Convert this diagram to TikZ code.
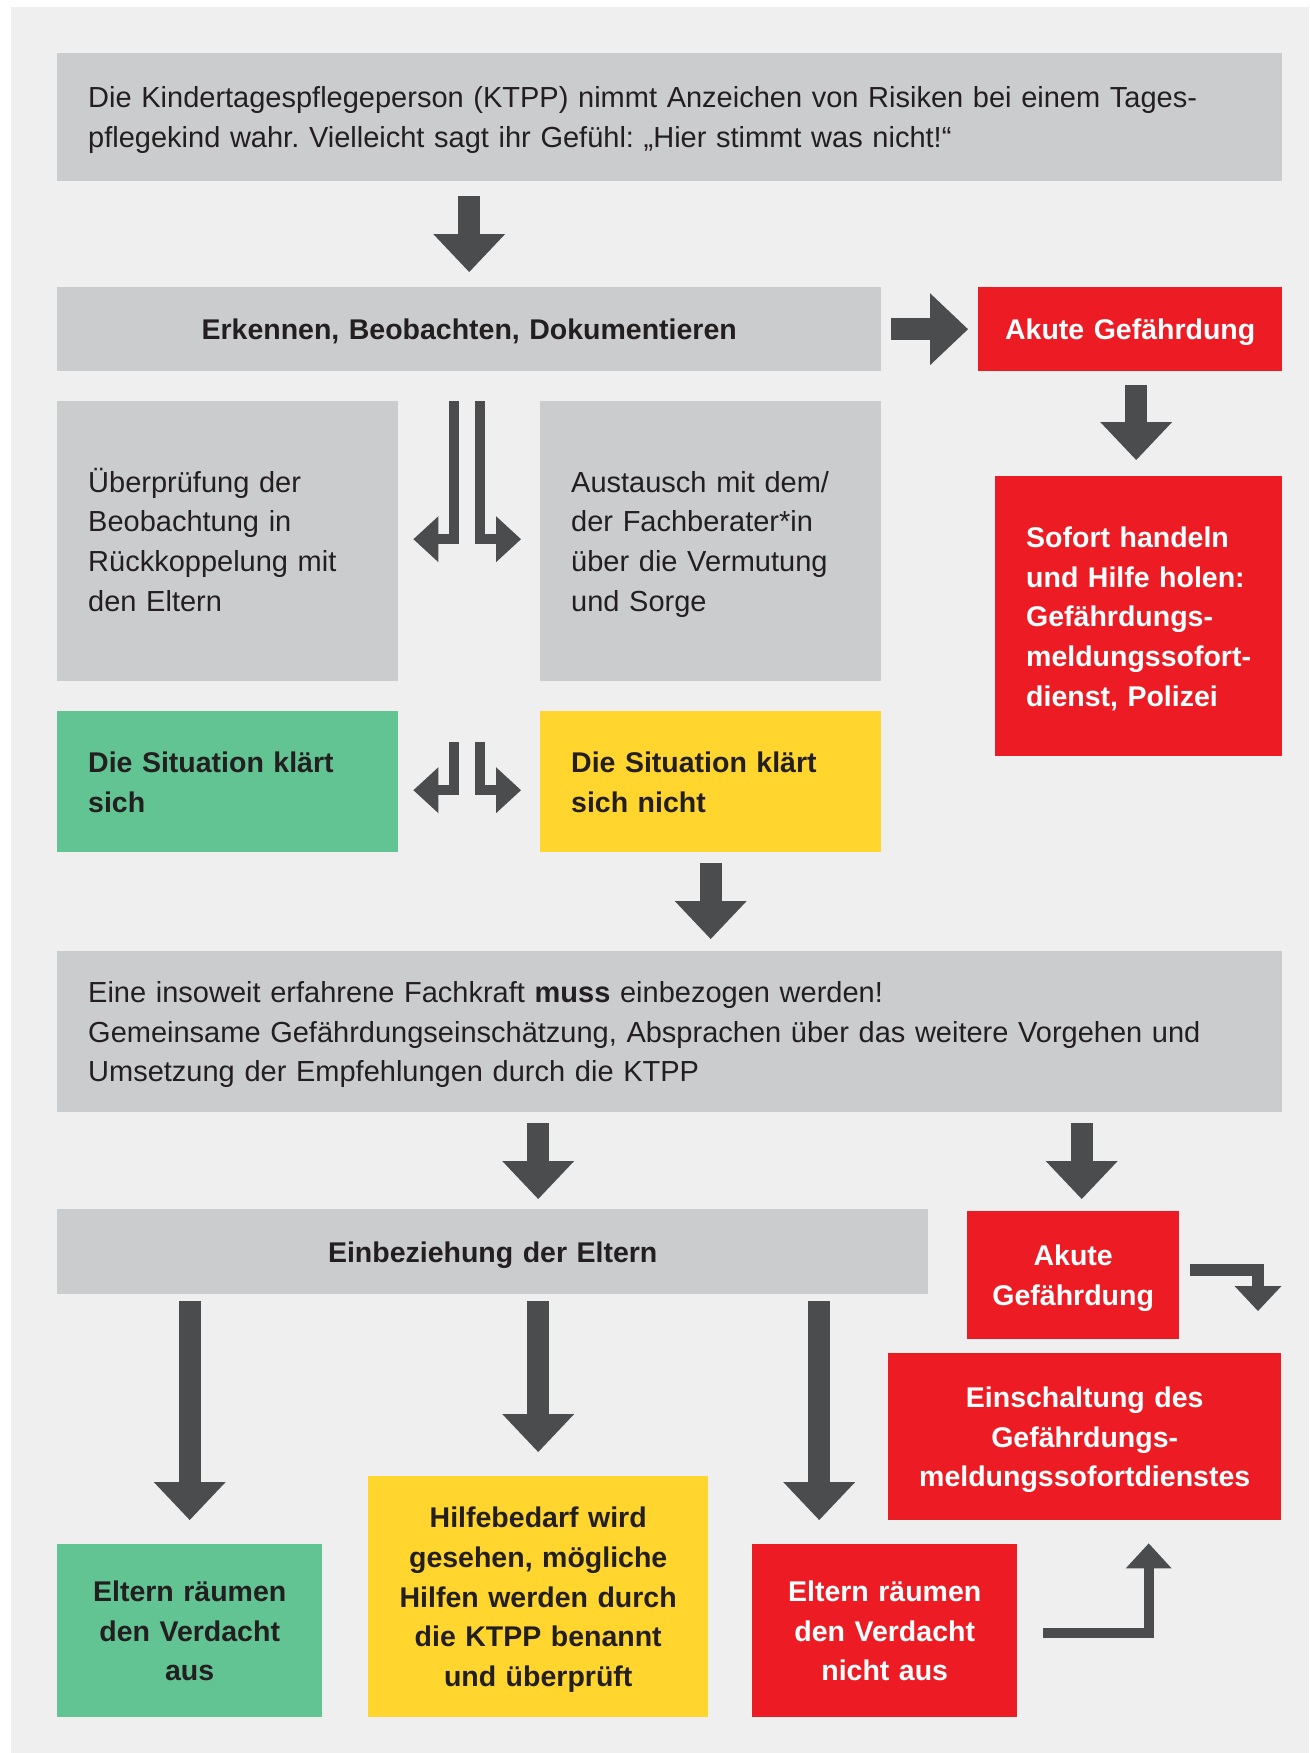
\documentclass[tikz,border=0pt]{standalone}
\usepackage{fontspec}
\setmainfont{Liberation Sans}
\usetikzlibrary{arrows.meta,calc}
\definecolor{panel}{HTML}{EFEFEF}
\definecolor{boxgray}{HTML}{CBCCCE}
\definecolor{arr}{HTML}{4B4C4E}
\definecolor{ared}{HTML}{ED1C24}
\definecolor{agreen}{HTML}{62C393}
\definecolor{ayellow}{HTML}{FFD52E}
\definecolor{ink}{HTML}{231F20}
\frenchspacing
\newcommand\regf{\fontsize{29pt}{39.7pt}\selectfont\frenchspacing}
\newcommand\bldf{\fontsize{28.5pt}{39.7pt}\selectfont\bfseries\frenchspacing}
\newcommand\dstrut{\rule[-6pt]{0pt}{6pt}}
\begin{document}
\begin{tikzpicture}[x=1pt,y=-1pt,
  box/.style={rectangle, inner sep=0pt, anchor=north west, text=ink, text height=27pt},
  lbox/.style={box, inner xsep=31pt, align=left},
  cbox/.style={box, inner xsep=10pt, align=center},
  bigarrow/.style={draw=arr, line width=22pt, -{Triangle[length=38pt,width=72pt,line width=0pt]}},
  elbow/.style={draw=arr, line width=10pt, line join=miter, -{Triangle[length=25pt,width=46pt,line width=0pt]}},
  elbowb/.style={draw=arr, line width=12pt, line join=miter, -{Triangle[length=25pt,width=47pt,line width=0pt]}}
]
\useasboundingbox (0,0) rectangle (1309,1753);
\fill[panel] (11,7) rectangle (1309,1753);

% boxes
\node[lbox, fill=boxgray, font=\regf, minimum width=1225pt, minimum height=128pt, text width=1163pt] (top) at (57,53)
  {Die Kindertagespflegeperson (KTPP) nimmt Anzeichen von Risiken bei einem Tages-\\pflegekind wahr. Vielleicht sagt ihr Gefühl: „Hier stimmt was nicht!“\dstrut};
\node[cbox, fill=boxgray, font=\bldf, minimum width=824pt, minimum height=84pt, text width=804pt] (erk) at (57,287)
  {Erkennen, Beobachten, Dokumentieren\dstrut};
\node[cbox, fill=ared, text=white, font=\bldf, minimum width=304pt, minimum height=84pt, text width=284pt] (akute1) at (978,287)
  {Akute Gefährdung\dstrut};
\node[lbox, fill=ared, text=white, font=\bldf, minimum width=287pt, minimum height=280pt, text width=225pt] (sofort) at (995,476)
  {Sofort handeln\\und Hilfe holen:\\Gefährdungs-\\meldungssofort-\\dienst, Polizei\dstrut};
\node[lbox, fill=boxgray, font=\regf, minimum width=341pt, minimum height=280pt, text width=279pt] (ueber) at (57,401)
  {Überprüfung der\\Beobachtung in\\Rückkoppelung mit\\den Eltern\dstrut};
\node[lbox, fill=boxgray, font=\regf, minimum width=341pt, minimum height=280pt, text width=279pt] (austausch) at (540,401)
  {Austausch mit dem/\\der Fachberater*in\\über die Vermutung\\und Sorge\dstrut};
\node[lbox, fill=agreen, font=\bldf, minimum width=341pt, minimum height=141pt, text width=279pt] (green1) at (57,711)
  {Die Situation klärt\\sich\dstrut};
\node[lbox, fill=ayellow, font=\bldf, minimum width=341pt, minimum height=141pt, text width=279pt] (yellow1) at (540,711)
  {Die Situation klärt\\sich nicht\dstrut};
\node[lbox, fill=boxgray, font=\regf, minimum width=1225pt, minimum height=161pt, text width=1163pt] (insoweit) at (57,951)
  {Eine insoweit erfahrene Fachkraft \textbf{muss} einbezogen werden!\\Gemeinsame Gefährdungseinschätzung, Absprachen über das weitere Vorgehen und\\Umsetzung der Empfehlungen durch die KTPP\dstrut};
\node[cbox, fill=boxgray, font=\bldf, minimum width=871pt, minimum height=85pt, text width=851pt] (einbez) at (57,1209)
  {Einbeziehung der Eltern\dstrut};
\node[cbox, fill=ared, text=white, font=\bldf, minimum width=212pt, minimum height=128pt, text width=192pt] (akute2) at (967,1211)
  {Akute\\Gefährdung\dstrut};
\node[cbox, fill=ared, text=white, font=\bldf, minimum width=393pt, minimum height=167pt, text width=373pt] (einschalt) at (888,1353)
  {Einschaltung des\\Gefährdungs-\\meldungssofortdienstes\dstrut};
\node[cbox, fill=agreen, font=\bldf, minimum width=265pt, minimum height=173pt, text width=245pt] (green2) at (57,1544)
  {Eltern räumen\\den Verdacht\\aus\dstrut};
\node[cbox, fill=ayellow, font=\bldf, minimum width=340pt, minimum height=241pt, text width=320pt] (yellow2) at (368,1476)
  {Hilfebedarf wird\\gesehen, mögliche\\Hilfen werden durch\\die KTPP benannt\\und überprüft\dstrut};
\node[cbox, fill=ared, text=white, font=\bldf, minimum width=265pt, minimum height=173pt, text width=245pt] (red2) at (752,1544)
  {Eltern räumen\\den Verdacht\\nicht aus\dstrut};

% connectors
\draw[bigarrow, shorten <=15pt, shorten >=15pt] (erk.north |- top.south) -- (erk.north);
\draw[bigarrow, shorten <=10pt, shorten >=10pt] (erk.east) -- (akute1.west);
\coordinate (a3) at ([xshift=6pt]akute1.south);
\draw[bigarrow, shorten <=14pt, shorten >=16pt] (a3) -- (a3 |- sofort.north);

\coordinate (e1) at (454,401);
\coordinate (e2) at (480,401);
\draw[elbow] (e1) |- ([xshift=15pt,yshift=2pt]ueber.east);
\draw[elbow] (e2) |- ([xshift=-19pt,yshift=2pt]austausch.west);
\coordinate (e3) at (454,742);
\coordinate (e4) at (480,742);
\draw[elbow] (e3) |- ([xshift=15pt,yshift=-8.5pt]green1.east);
\draw[elbow] (e4) |- ([xshift=-19pt,yshift=-8.5pt]yellow1.west);

\draw[bigarrow, shorten <=11pt, shorten >=12pt] (yellow1.south) -- (yellow1.south |- insoweit.north);
\draw[bigarrow, shorten <=11pt, shorten >=10pt] (yellow2.north |- insoweit.south) -- (yellow2.north |- einbez.north);
\coordinate (a7) at ([xshift=8.5pt]akute2.north);
\draw[bigarrow, shorten <=11pt, shorten >=12pt] (a7 |- insoweit.south) -- (a7);

\draw[bigarrow, shorten <=7pt, shorten >=24pt] (green2.north |- einbez.south) -- (green2.north);
\draw[bigarrow, shorten <=7pt, shorten >=24pt] (yellow2.north |- einbez.south) -- (yellow2.north);
\coordinate (a10) at ([xshift=-65.5pt]red2.north);
\draw[bigarrow, shorten <=7pt, shorten >=24pt] (a10 |- einbez.south) -- (a10);

\coordinate (a11) at (1258,1311);
\draw[elbowb] ([xshift=11pt,yshift=5pt]akute2.east) -| (a11);
\draw[elbow] ([xshift=26pt,yshift=-2.5pt]red2.east) -| ([xshift=64pt,yshift=-23pt]einschalt.south);
\end{tikzpicture}
\end{document}
